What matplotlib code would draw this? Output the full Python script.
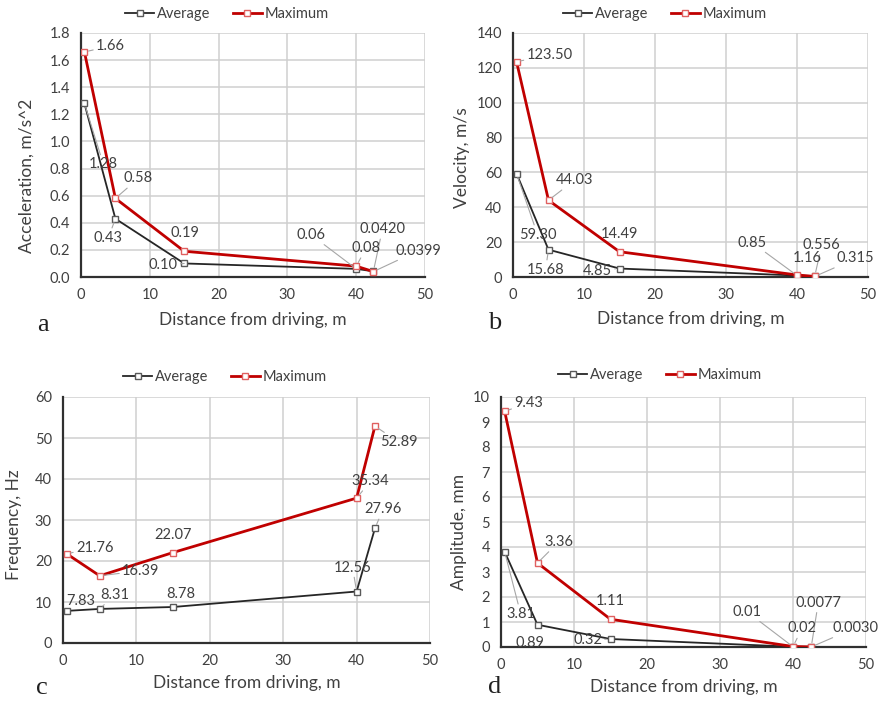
import math
import matplotlib
matplotlib.use("Agg")
import matplotlib.pyplot as plt
from matplotlib.lines import Line2D

plt.rcParams['font.family'] = ['Lato', 'DejaVu Sans']

# distance from driving, m (same for all four panels)
distance = [0.5, 5, 15, 40, 42.5]

# a - acceleration, m/s^2
accel_avg = [1.28, 0.43, 0.10, 0.06, 0.0420]
accel_max = [1.66, 0.58, 0.19, 0.08, 0.0399]
accel_avg_txt = ['1.28', '0.43', '0.10', '0.06', '0.0420']
accel_max_txt = ['1.66', '0.58', '0.19', '0.08', '0.0399']

# b - velocity, m/s
vel_avg = [59.30, 15.68, 4.85, 0.85, 0.556]
vel_max = [123.50, 44.03, 14.49, 1.16, 0.315]
vel_avg_txt = ['59.30', '15.68', '4.85', '0.85', '0.556']
vel_max_txt = ['123.50', '44.03', '14.49', '1.16', '0.315']

# c - frequency, Hz
freq_avg = [7.83, 8.31, 8.78, 12.56, 27.96]
freq_max = [21.76, 16.39, 22.07, 35.34, 52.89]
freq_avg_txt = ['7.83', '8.31', '8.78', '12.56', '27.96']
freq_max_txt = ['21.76', '16.39', '22.07', '35.34', '52.89']

# d - amplitude, mm
amp_avg = [3.81, 0.89, 0.32, 0.01, 0.0077]
amp_max = [9.43, 3.36, 1.11, 0.02, 0.0030]
amp_avg_txt = ['3.81', '0.89', '0.32', '0.01', '0.0077']
amp_max_txt = ['9.43', '3.36', '1.11', '0.02', '0.0030']

W, H = 879, 701
TXT = '#404040'
RED = '#c00000'
BLK = '#262626'

fig = plt.figure(figsize=(W / 100, H / 100), dpi=100)


def box(l, r, t, b):
    # pixel box -> figure fraction
    return [l / W, 1 - b / H, (r - l) / W, (b - t) / H]


def label_points(ax, xs, ys, texts, offsets):
    for x, y, s, (dx, dy) in zip(xs, ys, texts, offsets):
        arrow = None
        if math.hypot(dx, dy) > 20:
            arrow = dict(arrowstyle='-', color='#a6a6a6', lw=0.8,
                         shrinkA=0, shrinkB=3)
        ax.annotate(s, (x, y), xytext=(dx, dy), textcoords='offset pixels',
                    ha='center', va='center', fontsize=10.5, color=TXT,
                    arrowprops=arrow, zorder=5)


def panel(rect, avg, mx, avg_txt, max_txt, avg_off, max_off, ymax, ystep,
          yfmt, ylabel, ylab_pos, xlab_y, legend_xy, letter_xy, letter):
    ax = fig.add_axes(box(*rect))
    ax.plot(distance, avg, color=BLK, lw=1.3, marker='s', ms=5,
            mfc='white', mec='#595959', mew=1, zorder=3)
    ax.plot(distance, mx, color=RED, lw=2, marker='s', ms=5,
            mfc='white', mec='#e06060', mew=1, zorder=4)
    label_points(ax, distance, avg, avg_txt, avg_off)
    label_points(ax, distance, mx, max_txt, max_off)

    ax.set_xlim(0, 50)
    ax.set_ylim(0, ymax)
    ax.set_xticks(range(0, 51, 10))
    n = int(round(ymax / ystep))
    yt = [i * ystep for i in range(n + 1)]
    ax.set_yticks(yt)
    ax.set_yticklabels([yfmt.format(v) for v in yt])
    ax.tick_params(length=0, labelsize=10.5, labelcolor=TXT, pad=8)
    ax.grid(True, color='#cfcfcf', lw=1.1)
    ax.set_axisbelow(True)
    for s in ['top', 'right']:
        ax.spines[s].set_visible(False)
    for s in ['left', 'bottom']:
        ax.spines[s].set_color('#303030')
        ax.spines[s].set_linewidth(1.6)

    ax.set_xlabel('Distance from driving, m', fontsize=12.5, color=TXT)
    ax.set_ylabel(ylabel, fontsize=12.5, color=TXT)
    ax.xaxis.set_label_coords(0.5, xlab_y)
    ax.yaxis.set_label_coords(*ylab_pos)

    handles = [
        Line2D([], [], color=BLK, lw=1.3, marker='s', ms=5, mfc='white',
               mec='#595959'),
        Line2D([], [], color=RED, lw=2, marker='s', ms=5, mfc='white',
               mec='#e06060'),
    ]
    fig.legend(handles, ['Average', 'Maximum'], loc='center', ncol=2,
               frameon=False, fontsize=10.5, labelcolor=TXT,
               handlelength=2.0, handletextpad=0.2, columnspacing=1.5,
               bbox_to_anchor=(legend_xy[0] / W, 1 - legend_xy[1] / H))
    fig.text(letter_xy[0] / W, 1 - letter_xy[1] / H, letter,
             family='Liberation Serif', fontsize=19, color='#202020',
             ha='center', va='center')
    return ax


panel((81, 425, 33, 277), accel_avg, accel_max, accel_avg_txt, accel_max_txt,
      [(19, -61), (-7, -19), (-21, -2), (-45, 34), (9, 42)],
      [(26, 6), (23, 20), (1, 18), (10, 18), (45, 21)],
      1.8, 0.2, '{:.1f}', 'Acceleration, m/s^2', (-0.134, 0.414), -0.143,
      (227, 14), (43, 325), 'a')

panel((513, 868, 33, 277), vel_avg, vel_max, vel_avg_txt, vel_max_txt,
      [(21, -61), (-3, -20), (-22, -2), (-45, 33), (7, 31)],
      [(33, 7), (26, 20), (0, 18), (10, 17), (41, 18)],
      140, 20, '{:.0f}', 'Velocity, m/s', (-0.121, 0.49), -0.139,
      (665, 14), (495, 323), 'b')

panel((63, 430, 397, 643), freq_avg, freq_max, freq_avg_txt, freq_max_txt,
      [(14, 10), (15, 14), (8, 13), (-4, 24), (8, 19)],
      [(28, 6), (41, 5), (0, 18), (14, 17), (24, -16)],
      60, 10, '{:.0f}', 'Frequency, Hz', (-0.112, 0.48), -0.130,
      (225, 377), (42, 688), 'c')

panel((501, 866, 397, 647), amp_avg, amp_max, amp_avg_txt, amp_max_txt,
      [(16, -62), (-8, -18), (-23, -1), (-46, 35), (7, 44)],
      [(24, 8), (21, 21), (0, 18), (9, 18), (44, 19)],
      10, 1, '{:.0f}', 'Amplitude, mm', (-0.093, 0.46), -0.128,
      (660, 375), (495, 687), 'd')

fig.savefig('out.png', dpi=100)
